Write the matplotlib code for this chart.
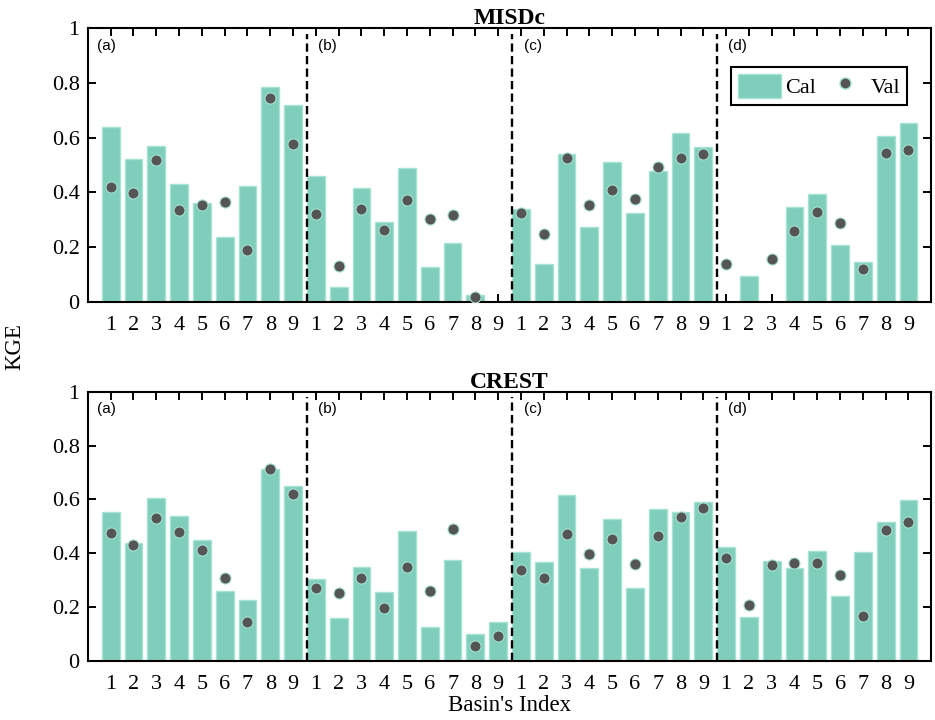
import numpy as np
import matplotlib
matplotlib.use('Agg')
import matplotlib.pyplot as plt
from matplotlib.patches import Patch
from matplotlib.lines import Line2D

# KGE values, groups (a)-(d), basins 1-9 each
misdc_cal = [0.637, 0.522, 0.568, 0.431, 0.359, 0.235, 0.422, 0.783, 0.718,
             0.461, 0.054, 0.416, 0.291, 0.487, 0.125, 0.214, 0.026, np.nan,
             0.338, 0.139, 0.538, 0.274, 0.510, 0.325, 0.477, 0.617, 0.567,
             np.nan, 0.095, np.nan, 0.347, 0.392, 0.207, 0.144, 0.606, 0.653]
misdc_val = [0.418, 0.398, 0.519, 0.336, 0.355, 0.365, 0.189, 0.743, 0.578,
             0.319, 0.130, 0.338, 0.262, 0.370, 0.303, 0.318, 0.017, np.nan,
             0.324, 0.247, 0.526, 0.354, 0.408, 0.376, 0.491, 0.524, 0.539,
             0.136, np.nan, 0.156, 0.259, 0.327, 0.288, 0.120, 0.545, 0.555]
crest_cal = [0.554, 0.439, 0.604, 0.537, 0.449, 0.260, 0.228, 0.712, 0.650,
             0.304, 0.161, 0.350, 0.255, 0.484, 0.127, 0.374, 0.099, 0.146,
             0.406, 0.368, 0.618, 0.344, 0.527, 0.271, 0.566, 0.554, 0.590,
             0.422, 0.163, 0.373, 0.345, 0.410, 0.240, 0.405, 0.517, 0.597]
crest_val = [0.476, 0.432, 0.530, 0.479, 0.412, 0.309, 0.146, 0.712, 0.621,
             0.272, 0.251, 0.309, 0.197, 0.348, 0.261, 0.491, 0.057, 0.094,
             0.337, 0.307, 0.470, 0.397, 0.454, 0.360, 0.465, 0.535, 0.569,
             0.381, 0.209, 0.356, 0.364, 0.365, 0.318, 0.166, 0.488, 0.517]

group_labels = ['(a)', '(b)', '(c)', '(d)']
basin_labels = [str(i) for i in range(1, 10)] * 4
ytick_vals = [0, 0.2, 0.4, 0.6, 0.8, 1]
ytick_labels = ['0', '0.2', '0.4', '0.6', '0.8', '1']

plt.rcParams['font.family'] = ['Liberation Serif', 'DejaVu Serif']

bar_col = '#7fcdbb'
bar_edge = '#a6e3d2'
dot_col = '#555555'

fig = plt.figure(figsize=(9.35, 7.2), dpi=100)
ax1 = fig.add_axes([0.094, 0.581, 0.902, 0.380])
ax2 = fig.add_axes([0.094, 0.082, 0.902, 0.374])

x = np.arange(1, 37)
lab_x = [0.4, 10.1, 19.15, 28.1]  # where the (a)-(d) tags sit

for ax, cal, val, title in [(ax1, misdc_cal, misdc_val, 'MISDc'),
                            (ax2, crest_cal, crest_val, 'CREST')]:
    ax.bar(x, cal, width=0.78, color=bar_col, edgecolor=bar_edge, linewidth=1.0, zorder=2)
    ax.plot(x, val, 'o', color=dot_col, markersize=8, markeredgecolor=bar_edge,
            markeredgewidth=0.8, zorder=3)
    for xd in [9.6, 18.6, 27.6]:
        ax.axvline(xd, ymax=0.98, color='black', linestyle=(0, (3.5, 1.8)),
                   linewidth=1.7, zorder=4)
    for xt, g in zip(lab_x, group_labels):
        ax.text(xt, 0.96, g, fontsize=11, family='Liberation Sans', va='top', ha='left')
    ax.set_xlim(0, 37)
    ax.set_ylim(0, 1)
    ax.set_xticks(x)
    ax.set_xticklabels(basin_labels, fontsize=16)
    ax.set_yticks(ytick_vals)
    ax.set_yticklabels(ytick_labels, fontsize=16)
    ax.tick_params(direction='in', length=6, width=1.4, top=True, right=True, pad=6)
    ax.tick_params(axis='x', pad=10)
    for sp in ax.spines.values():
        sp.set_linewidth(1.5)
    ax.set_title(title, fontsize=17, fontweight='bold', pad=3)

handles = [Patch(facecolor=bar_col, edgecolor=bar_edge, label='Cal'),
           Line2D([], [], marker='o', linestyle='None', color=dot_col,
                  markersize=8, markeredgecolor=bar_edge, label='Val')]
leg = ax1.legend(handles=handles, ncol=2, loc='upper right',
                 bbox_to_anchor=(0.9715, 0.858), borderaxespad=0, fontsize=16,
                 fancybox=False, edgecolor='black', framealpha=1,
                 handlelength=1.95, handleheight=1.3, handletextpad=0.2,
                 columnspacing=0.3, borderpad=0.3)
leg.get_frame().set_linewidth(1.5)

fig.text(0.016, 0.518, 'KGE', rotation=90, fontsize=16.5, va='center', ha='center')
ax2.set_xlabel("Basin's Index", fontsize=16.5, labelpad=1)

fig.savefig('out.png', dpi=100)
